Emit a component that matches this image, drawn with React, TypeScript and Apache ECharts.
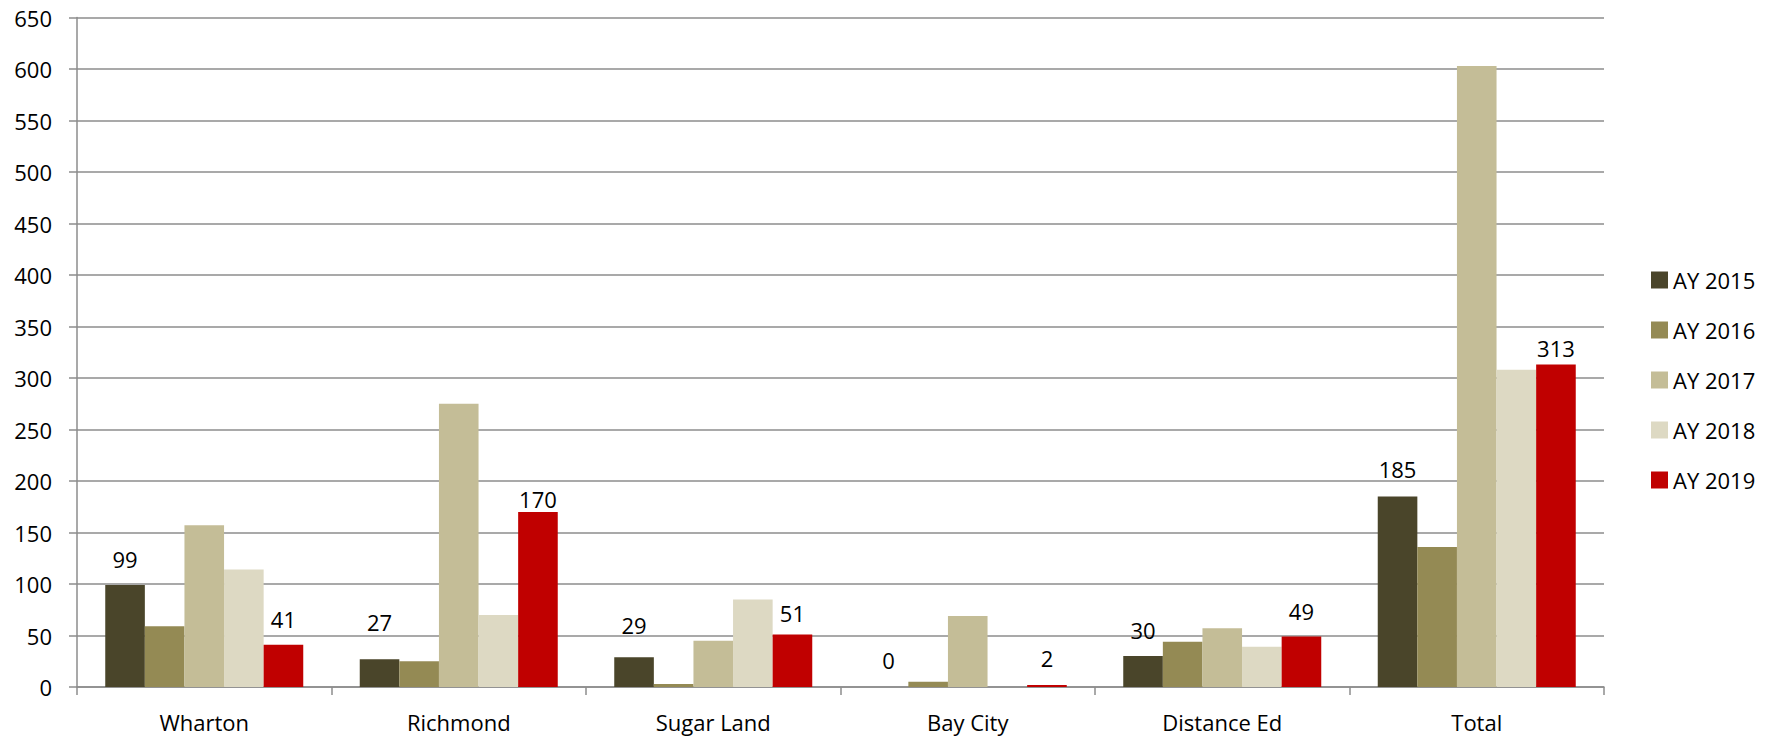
import React, { useEffect, useRef } from "react";
import * as echarts from "echarts";

const categories = ["Wharton", "Richmond", "Sugar Land", "Bay City", "Distance Ed", "Total"];
const seriesNames = ["AY 2015", "AY 2016", "AY 2017", "AY 2018", "AY 2019"];
const ay2015 = [99, 27, 29, 0, 30, 185];
const ay2016 = [59, 25, 3, 5, 44, 136];
const ay2017 = [157, 275, 45, 69, 57, 603];
const ay2018 = [114, 70, 85, 0, 39, 308];
const ay2019 = [41, 170, 51, 2, 49, 313];
const seriesValues = [ay2015, ay2016, ay2017, ay2018, ay2019];
const labelledSeries = [true, false, false, false, true];
const colors = ["#4A452A", "#948A54", "#C4BD97", "#DDD9C3", "#C00000"];

// small vertical nudges (px) of the value labels, as placed in the original
const labelNudge2015 = [0, -11, -6, -1, 0, -1];
const labelNudge2019 = [0, 13, 5, -1, 0, 9];
const labelNudges = [labelNudge2015, null, null, null, labelNudge2019];

const FONT = "'Open Sans', 'Liberation Sans', sans-serif";
const GRID_COLOR = "#8C8C8C";

export default function App() {
  const ref = useRef<HTMLDivElement>(null);
  useEffect(() => {
    if (!ref.current) return;
    const chart = echarts.init(ref.current, undefined, { renderer: "svg" });
    chart.setOption({
      animation: false,
      backgroundColor: "#ffffff",
      textStyle: { fontFamily: FONT },
      grid: { left: 77, right: 171, top: 17.5, bottom: 51, containLabel: false },
      legend: {
        orient: "vertical",
        left: 1646,
        top: 264,
        itemWidth: 17,
        itemHeight: 17,
        itemGap: 28,
        icon: "rect",
        textStyle: { fontFamily: FONT, fontSize: 22, color: "#000", lineHeight: 20 },
        data: seriesNames,
      },
      xAxis: {
        type: "category",
        data: categories,
        axisLine: { show: true, lineStyle: { color: GRID_COLOR, width: 1.5 } },
        axisTick: { show: true, length: 8, lineStyle: { color: GRID_COLOR, width: 1.5 } },
        axisLabel: { fontFamily: FONT, fontSize: 22, color: "#000", margin: 24 },
      },
      yAxis: {
        type: "value",
        min: 0,
        max: 650,
        interval: 50,
        axisLine: { show: true, lineStyle: { color: GRID_COLOR, width: 1.5 } },
        axisTick: { show: true, length: 8, lineStyle: { color: GRID_COLOR, width: 1.5 } },
        axisLabel: { fontFamily: FONT, fontSize: 22, color: "#000", margin: 25 },
        splitLine: { show: true, lineStyle: { color: GRID_COLOR, width: 1.5 } },
      },
      series: seriesNames.map((name, i) => {
        const nudges = labelNudges[i];
        return {
          name,
          type: "bar",
          data: seriesValues[i].map((v, j) =>
            nudges ? { value: v, label: { offset: [0, nudges[j]] } } : v
          ),
          barGap: "0%",
          barCategoryGap: "22.2%",
          itemStyle: { color: colors[i] },
          label: {
            show: labelledSeries[i],
            position: "top",
            distance: 15,
            fontFamily: FONT,
            fontSize: 22,
            color: "#000",
          },
        };
      }),
    });
    return () => chart.dispose();
  }, []);
  return (
    <div
      ref={ref}
      style={{ position: "fixed", left: 0, top: 0, width: 1775, height: 738, background: "#fff" }}
    />
  );
}
